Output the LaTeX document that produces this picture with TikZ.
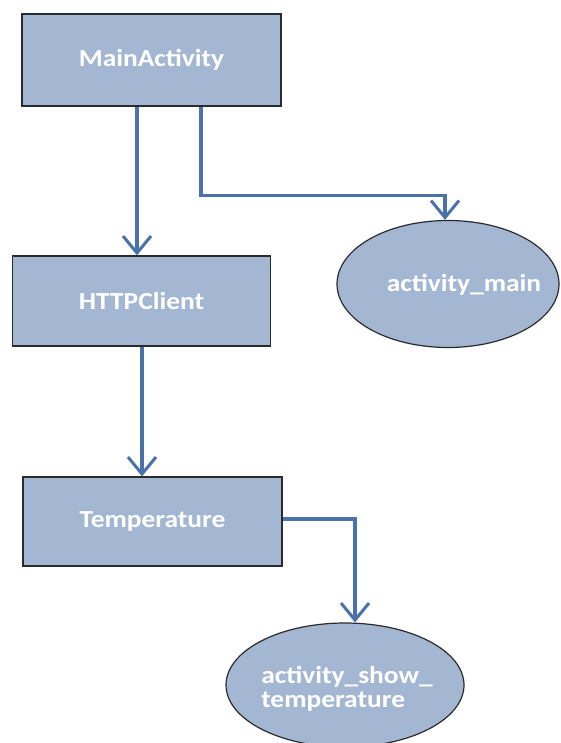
\documentclass[tikz,border=0pt]{standalone}
\usepackage{fontspec}
\setmainfont{Carlito}[FakeStretch=1.12]
\usetikzlibrary{arrows.meta,shapes.geometric}
\definecolor{boxfill}{HTML}{A3B7D3}
\definecolor{boxline}{HTML}{2B2B2B}
\definecolor{linkblue}{HTML}{4A72AA}
\tikzset{
  classbox/.style={draw=boxline, line width=1.2pt, fill=boxfill, rectangle,
    inner sep=0pt, text=white, font=\fontsize{24.5}{24.5}\selectfont\bfseries},
  layoutoval/.style={draw=boxline, line width=1.2pt, fill=boxfill, ellipse,
    inner sep=0pt},
  ovaltext/.style={text=white, font=\fontsize{24.5}{23.5}\selectfont\bfseries,
    inner sep=0pt, align=left},
  conn/.style={draw=linkblue, line width=3.2pt,
    -{Straight Barb[length=17pt, width=28pt, line width=3pt]}}
}
\begin{document}
\begin{tikzpicture}[x=1pt, y=-1pt]
  \useasboundingbox (0,0) rectangle (560,743);
  \fill[white] (0,0) rectangle (560,743);

  % activities
  \node[classbox, minimum width=259pt, minimum height=92pt] (ma) at (151.5,60) {MainActivity};
  \node[classbox, minimum width=258pt, minimum height=90pt] (hc) at (141.5,301) {HTTPClient};
  \node[classbox, minimum width=259pt, minimum height=89pt] (tp) at (152.5,521.5) {Temperature};

  % layouts
  \node[layoutoval, minimum width=222pt, minimum height=127pt] (am) at (448,284) {};
  \node[ovaltext] (amtext) at ([xshift=16pt, yshift=-1pt]am.center) {activity\_main};
  \node[layoutoval, minimum width=238pt, minimum height=124pt] (ast) at (345,685) {};
  \node[ovaltext] (asttext) at ([xshift=2pt, yshift=-4pt]ast.center)
    {activity\_show\_\\temperature};

  % links
  \draw[conn] ([xshift=-14.5pt]ma.south) -- ([xshift=-4.5pt]hc.north);
  \draw[conn] ([xshift=49.5pt]ma.south) -- ++(0,89) -| ([xshift=-3pt]am.north);
  \draw[conn] ([xshift=0.5pt]hc.south) -- ([xshift=-10.5pt]tp.north);
  \draw[conn] ([yshift=2.5pt]tp.east) -| ([xshift=10pt]ast.north);
\end{tikzpicture}
\end{document}
